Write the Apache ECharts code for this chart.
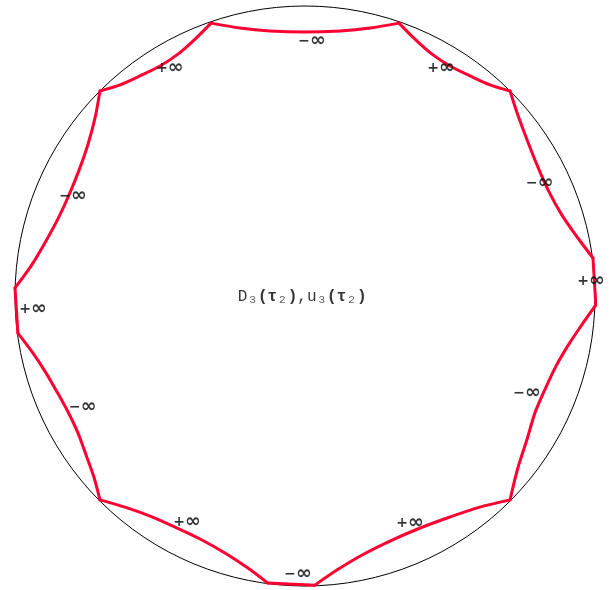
<!DOCTYPE html>
<html>
<head>
<meta charset="utf-8">
<style>
  html, body { margin: 0; padding: 0; background: #fff; }
  #chart { width: 610px; height: 590px; }
</style>
<script src="https://cdn.jsdelivr.net/npm/echarts@6/dist/echarts.min.js"></script>
</head>
<body>
<div id="chart"></div>
<script>
// Boundary curve of the region, traced clockwise from the top-left corner.
const curveX = [
  -0.324, -0.224, -0.121, 0.000, 0.121, 0.224, 0.324,
  0.379, 0.438, 0.500, 0.569, 0.638, 0.707,
  0.734, 0.766, 0.800, 0.838, 0.886, 0.941, 0.993,
  1.003,
  0.959, 0.910, 0.866, 0.828, 0.793, 0.766, 0.734, 0.707,
  0.603, 0.500, 0.397, 0.293, 0.197, 0.110, 0.034,
  -0.128,
  -0.197, -0.276, -0.362, -0.448, -0.534, -0.621, -0.707,
  -0.728, -0.755, -0.783, -0.817, -0.855, -0.897, -0.941, -0.990,
  -1.000,
  -0.945, -0.897, -0.852, -0.814, -0.779, -0.748, -0.724, -0.707,
  -0.638, -0.569, -0.500, -0.438, -0.379, -0.324
];
const curveY = [
  0.941, 0.924, 0.914, 0.910, 0.914, 0.924, 0.941,
  0.886, 0.834, 0.793, 0.759, 0.728, 0.707,
  0.624, 0.538, 0.452, 0.366, 0.279, 0.200, 0.131,
  -0.031,
  -0.093, -0.166, -0.241, -0.321, -0.403, -0.493, -0.593, -0.703,
  -0.728, -0.762, -0.800, -0.845, -0.893, -0.945, -0.997,
  -0.990,
  -0.938, -0.886, -0.838, -0.797, -0.759, -0.728, -0.703,
  -0.624, -0.548, -0.472, -0.400, -0.331, -0.259, -0.193, -0.128,
  0.028,
  0.103, 0.183, 0.266, 0.348, 0.434, 0.524, 0.614, 0.707,
  0.728, 0.759, 0.793, 0.834, 0.886, 0.941
];
// Indices of the corners where one arc of the boundary meets the next
const cornerIndex = [0, 6, 12, 19, 20, 28, 35, 36, 43, 51, 52, 60, 66];

// Limit values marked along each arc of the boundary
const limitSign = ['−', '+', '+', '−', '−', '+', '+', '−', '−', '+', '+', '−'];
const limitX = [0.024, -0.466, 0.469, -0.800, 0.810, 0.986, -0.938, -0.766, 0.766, -0.407, 0.362, -0.024];
const limitY = [0.879, 0.786, 0.786, 0.345, 0.390, 0.052, -0.045, -0.383, -0.334, -0.779, -0.783, -0.959];

// Caption in the middle of the disk
const captionPos = [-0.010, -0.003];

const red = '#ff0033';

// One smooth line per arc so the corners stay sharp
const arcSeries = [];
for (let k = 0; k < cornerIndex.length - 1; k++) {
  const pts = [];
  for (let i = cornerIndex[k]; i <= cornerIndex[k + 1]; i++) pts.push([curveX[i], curveY[i]]);
  arcSeries.push({
    type: 'line',
    data: pts,
    showSymbol: false,
    symbol: 'none',
    smooth: pts.length > 2 ? 0.3 : false,
    lineStyle: { color: red, width: 3, cap: 'round', join: 'round' },
    z: 3
  });
}

const limitData = limitSign.map((s, i) => ({ name: s, value: [limitX[i], limitY[i]] }));

const chart = echarts.init(document.getElementById('chart'), null, { renderer: 'canvas' });
chart.setOption({
  animation: false,
  backgroundColor: '#ffffff',
  grid: { left: 15, top: 6, width: 580, height: 580 },
  xAxis: { type: 'value', min: -1, max: 1, show: false },
  yAxis: { type: 'value', min: -1, max: 1, show: false },
  polar: { center: [305, 296], radius: 290 },
  angleAxis: {
    type: 'value', min: 0, max: 360,
    axisLine: { show: true, lineStyle: { color: '#000', width: 1 } },
    axisTick: { show: false }, axisLabel: { show: false }, splitLine: { show: false }
  },
  radiusAxis: { type: 'value', min: 0, max: 1, show: false },
  series: arcSeries.concat([
    {
      type: 'scatter',
      data: limitData,
      symbolSize: 0,
      label: {
        show: true,
        position: 'inside',
        formatter: p => '{s|' + p.name + '}{i|∞}',
        rich: {
          s: { fontFamily: 'DejaVu Sans', fontWeight: 'bold', fontSize: 14, color: '#000' },
          i: { fontFamily: 'DejaVu Sans', fontWeight: 'bold', fontSize: 19, color: '#000' }
        }
      },
      z: 4
    },
    {
      type: 'scatter',
      data: [captionPos],
      symbolSize: 0,
      label: {
        show: true,
        position: 'inside',
        formatter: '{m|D}{s|3}{b|(τ}{s|2}{b|)}{m|,u}{s|3}{b|(τ}{s|2}{b|)}',
        rich: {
          m: { fontFamily: 'Liberation Mono', fontSize: 16, color: '#000' },
          b: { fontFamily: 'Liberation Mono', fontSize: 16, fontWeight: 'bold', color: '#000' },
          s: { fontFamily: 'Liberation Mono', fontSize: 11, color: '#333', padding: [6, 2, 0, 2] }
        }
      },
      z: 4
    }
  ])
});
</script>
</body>
</html>
